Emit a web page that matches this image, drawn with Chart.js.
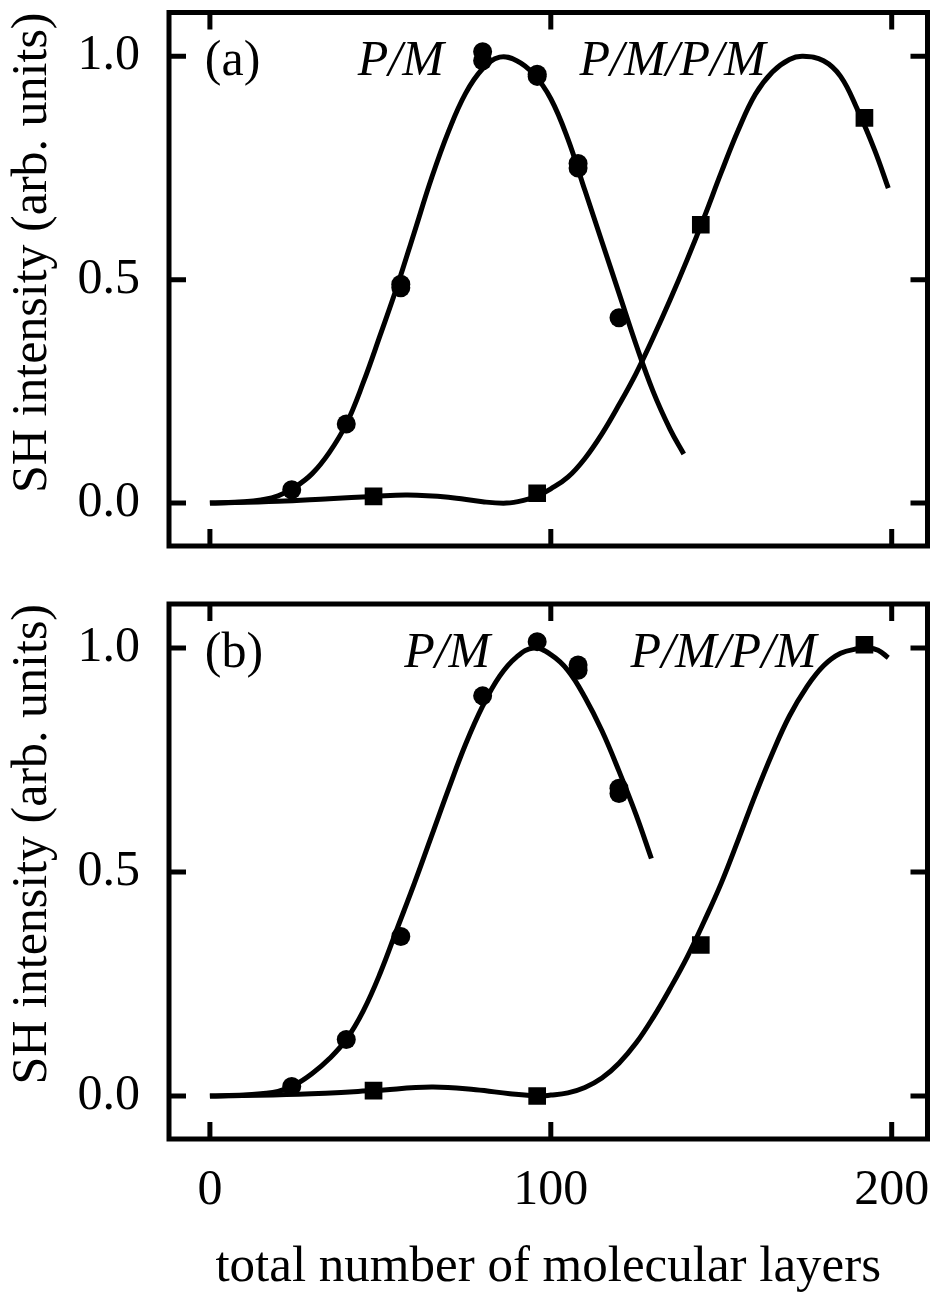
<!DOCTYPE html>
<html>
<head>
<meta charset="utf-8">
<script src="https://cdn.jsdelivr.net/npm/chart.js@4.4.1/dist/chart.umd.min.js"></script>
<style>
  html, body { margin: 0; padding: 0; background: #fff; }
  canvas { display: block; }
</style>
</head>
<body>
<canvas id="panelA" width="940" height="575"></canvas>
<canvas id="panelB" width="940" height="729"></canvas>
<script>
// ===== Data =====
const xTicks = [0, 100, 200];
const yTicks = [0, 0.5, 1.0];

// panel (a) measured points
const aPMpx = [24, 40, 56, 56, 80, 80, 96, 96, 108, 108, 120];
const aPMpy = [0.03, 0.177, 0.482, 0.49, 1.01, 0.99, 0.96, 0.955, 0.76, 0.75, 0.415];
const aPMPMpx = [48, 96, 144, 192];
const aPMPMpy = [0.015, 0.022, 0.623, 0.862];

// panel (a) fitted curves
const aPMcx = [0, 10, 15, 20, 25, 30, 35, 40, 45, 50, 55, 60, 65, 70, 75, 80, 85, 90, 95, 100, 105, 110, 115, 120, 125, 130, 135, 139];
const aPMcy = [0, 0.003, 0.007, 0.016, 0.036, 0.066, 0.113, 0.177, 0.27, 0.377, 0.487, 0.607, 0.727, 0.832, 0.917, 0.972, 0.998, 0.99, 0.96, 0.905, 0.815, 0.7, 0.585, 0.47, 0.355, 0.25, 0.165, 0.11];
const aPMPMcx = [0, 20, 35, 48, 58, 70, 80, 87, 92, 96, 100, 105, 110, 115, 120, 125, 130, 135, 140, 145, 150, 155, 160, 165, 170, 174, 180, 185, 190, 195, 199];
const aPMPMcy = [0, 0.004, 0.01, 0.015, 0.018, 0.013, 0.003, 0.0, 0.006, 0.016, 0.032, 0.058, 0.1, 0.155, 0.22, 0.29, 0.37, 0.455, 0.545, 0.64, 0.74, 0.835, 0.915, 0.965, 0.993, 1.0, 0.99, 0.955, 0.88, 0.79, 0.705];

// panel (b) measured points
const bPMpx = [24, 40, 56, 80, 96, 108, 108, 120, 120];
const bPMpy = [0.021, 0.126, 0.356, 0.893, 1.014, 0.962, 0.95, 0.687, 0.675];
const bPMPMpx = [48, 96, 144, 192];
const bPMPMpy = [0.012, 0.0, 0.337, 1.007];

// panel (b) fitted curves
const bPMcx = [0, 10, 15, 20, 25, 30, 35, 40, 45, 50, 55, 60, 65, 70, 75, 80, 85, 90, 95, 100, 105, 110, 115, 120, 125, 129.5];
const bPMcy = [0, 0.002, 0.005, 0.01, 0.025, 0.05, 0.083, 0.126, 0.19, 0.275, 0.375, 0.475, 0.58, 0.685, 0.785, 0.87, 0.937, 0.98, 1.0, 0.985, 0.95, 0.89, 0.815, 0.725, 0.628, 0.53];
const bPMPMcx = [0, 26, 48, 65, 78, 88, 96, 100, 105, 110, 115, 120, 125, 130, 135, 140, 145, 150, 155, 160, 165, 170, 175, 180, 185, 190, 193, 196, 199];
const bPMPMcy = [0, 0.004, 0.012, 0.02, 0.014, 0.005, 0.0, 0.002, 0.007, 0.019, 0.04, 0.073, 0.118, 0.175, 0.24, 0.31, 0.39, 0.475, 0.572, 0.672, 0.765, 0.848, 0.912, 0.96, 0.988, 0.998, 1.0, 0.995, 0.978];

// ===== Style =====
const FONT = '"Liberation Serif", "Times New Roman", serif';
const FSIZE = 50;
const TICK = 17;
const LW = 5;

const pts = (xs, ys) => xs.map((v, i) => ({ x: v, y: ys[i] }));

// frame, inward ticks and in-plot labels
const framePlugin = {
    id: 'frame',
    afterDraw(chart, args, opts){
        const { ctx, chartArea: a, scales: { x, y } } = chart;
        ctx.save();
        ctx.strokeStyle = '#000';
        ctx.lineWidth = LW;
        ctx.strokeRect(a.left, a.top, a.right - a.left, a.bottom - a.top);
        ctx.beginPath();
        xTicks.forEach(v => {
            const px = x.getPixelForValue(v);
            ctx.moveTo(px, a.top); ctx.lineTo(px, a.top + TICK);
            ctx.moveTo(px, a.bottom); ctx.lineTo(px, a.bottom - TICK);
        });
        yTicks.forEach(v => {
            const py = y.getPixelForValue(v);
            ctx.moveTo(a.left, py); ctx.lineTo(a.left + TICK, py);
            ctx.moveTo(a.right, py); ctx.lineTo(a.right - TICK, py);
        });
        ctx.stroke();
        ctx.fillStyle = '#000';
        ctx.textBaseline = 'alphabetic';
        (opts.labels || []).forEach(l => {
            ctx.font = (l.italic ? 'italic ' : '') + FSIZE + 'px ' + FONT;
            ctx.textAlign = l.align;
            ctx.fillText(l.text, x.getPixelForValue(l.x), y.getPixelForValue(l.y));
        });
        ctx.restore();
    }
};

function makePanel(id, d, labels, showX){
    const ctx = document.getElementById(id).getContext('2d');
    const markerCircle = { data: pts(d.px1, d.py1), pointStyle: 'circle', pointRadius: 9.5, backgroundColor: '#000', borderWidth: 0 };
    const markerSquare = { data: pts(d.px2, d.py2), pointStyle: 'rect', pointRadius: 12.5, backgroundColor: '#000', borderWidth: 0 };
    const curve = (xs, ys) => ({
        data: pts(xs, ys), showLine: true, pointRadius: 0, borderColor: '#000',
        borderWidth: LW, tension: 0.4, fill: false
    });
    new Chart(ctx, {
        type: 'scatter',
        data: { datasets: [markerCircle, markerSquare, curve(d.cx1, d.cy1), curve(d.cx2, d.cy2)] },
        options: {
            responsive: false,
            animation: false,
            events: [],
            layout: { padding: showX ? { top: 29, right: 7, bottom: 0, left: 0 } : { top: 10, right: 7, bottom: 29, left: 0 } },
            plugins: { legend: { display: false }, tooltip: { enabled: false }, frame: { labels } },
            scales: {
                x: {
                    type: 'linear', min: -12, max: 210.5,
                    display: showX,
                    afterBuildTicks: s => { s.ticks = xTicks.map(v => ({ value: v })); },
                    afterFit: s => { s.height = showX ? 165 : 0; s.paddingLeft = 0; s.paddingRight = 0; },
                    grid: { display: false, drawTicks: false },
                    border: { display: false },
                    ticks: { padding: 22, color: '#000', font: { family: FONT, size: FSIZE }, callback: v => String(v), maxRotation: 0, autoSkip: false },
                    title: { display: true, text: 'total number of molecular layers', color: '#000', font: { family: FONT, size: 51 }, padding: { top: 0, bottom: 6 } }
                },
                y: {
                    type: 'linear', min: -0.096, max: 1.098,
                    afterBuildTicks: s => { s.ticks = yTicks.map(v => ({ value: v })); },
                    afterFit: s => { s.width = 169; s.paddingTop = 0; s.paddingBottom = 0; },
                    grid: { display: false, drawTicks: false },
                    border: { display: false },
                    ticks: { padding: 29, color: '#000', font: { family: FONT, size: FSIZE }, callback: v => v.toFixed(1) },
                    title: { display: true, text: 'SH intensity (arb. units)', align: 'end', color: '#000', font: { family: FONT, size: FSIZE }, padding: { top: 3, bottom: 0 } }
                }
            }
        },
        plugins: [framePlugin]
    });
}

makePanel('panelA',
    { px1: aPMpx, py1: aPMpy, px2: aPMPMpx, py2: aPMPMpy, cx1: aPMcx, cy1: aPMcy, cx2: aPMPMcx, cy2: aPMPMcy },
    [
        { text: '(a)', x: -1.5, y: 0.958, align: 'left' },
        { text: 'P/M', x: 56, y: 0.958, align: 'center', italic: true },
        { text: 'P/M/P/M', x: 135.7, y: 0.958, align: 'center', italic: true }
    ], false);

makePanel('panelB',
    { px1: bPMpx, py1: bPMpy, px2: bPMPMpx, py2: bPMPMpy, cx1: bPMcx, cy1: bPMcy, cx2: bPMPMcx, cy2: bPMPMcy },
    [
        { text: '(b)', x: -1.5, y: 0.958, align: 'left' },
        { text: 'P/M', x: 69.6, y: 0.958, align: 'center', italic: true },
        { text: 'P/M/P/M', x: 150.7, y: 0.958, align: 'center', italic: true }
    ], true);
</script>
</body>
</html>
